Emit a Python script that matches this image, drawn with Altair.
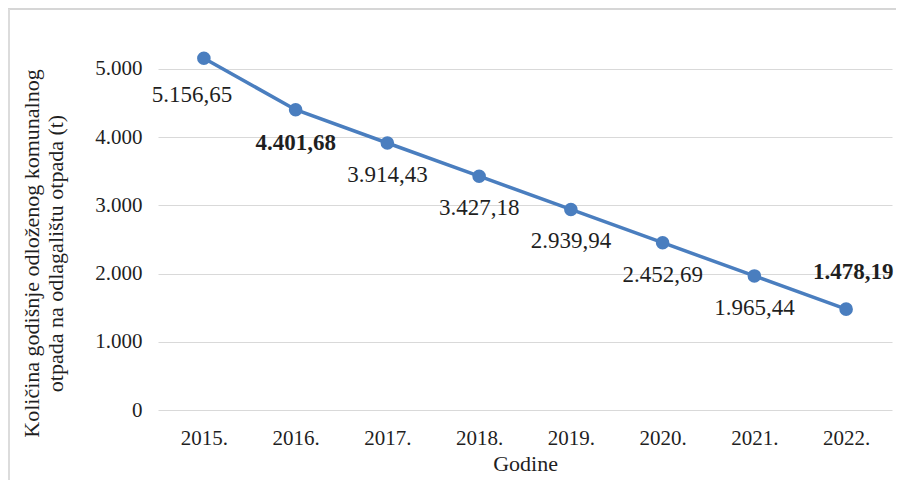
import altair as alt
import pandas as pd

years = ["2015.", "2016.", "2017.", "2018.", "2019.", "2020.", "2021.", "2022."]
values = [5156.65, 4401.68, 3914.43, 3427.18, 2939.94, 2452.69, 1965.44, 1478.19]
labels = ["5.156,65", "4.401,68", "3.914,43", "3.427,18", "2.939,94", "2.452,69", "1.965,44", "1.478,19"]
y_ticks = [0, 1000, 2000, 3000, 4000, 5000]

df = pd.DataFrame({"year": years, "value": values, "label": labels})

FONT = "Liberation Serif"
BLUE = "#4a7ebf"
TXT = "#1f1f1f"

x_enc = alt.X("year:N", sort=years, title="Godine",
              scale=alt.Scale(paddingInner=0, paddingOuter=0.5),
              axis=alt.Axis(labelAngle=0, ticks=False, domain=False, labelPadding=17,
                            labelFont=FONT, labelFontSize=21, labelColor=TXT,
                            titleFont=FONT, titleFontSize=22, titleFontWeight="normal",
                            titleColor=TXT, titlePadding=5))
y_enc = alt.Y("value:Q",
              scale=alt.Scale(domain=[0, 5600], nice=False),
              title=["Količina godišnje odloženog komunalnog", "otpada na odlagalištu otpada (t)"],
              axis=alt.Axis(values=y_ticks, ticks=False, domain=False, labelPadding=16,
                            labelExpr="replace(format(datum.value, ',d'), ',', '.')",
                            labelFont=FONT, labelFontSize=21, labelColor=TXT,
                            gridColor="#d9d9d9", gridWidth=1,
                            titleFont=FONT, titleFontSize=22, titleFontWeight="normal",
                            titleColor=TXT, titleX=-115, titleY=225, titleAlign="center"))

base = alt.Chart(df)

line = base.mark_line(color=BLUE, strokeWidth=3.5).encode(x=x_enc, y=y_enc)
pts = base.mark_circle(color=BLUE, size=185, opacity=1).encode(x=x_enc, y=y_enc)

def lbl(filter_expr, dx, dy, weight):
    return base.transform_filter(filter_expr).mark_text(
        font=FONT, fontSize=23, color=TXT, dx=dx, dy=dy, fontWeight=weight,
        baseline="middle", align="center"
    ).encode(x=alt.X("year:N", sort=years), y="value:Q", text="label:N")

l_first = lbl("datum.year == '2015.'", -12, 37, "normal")
l_bold_below = lbl("datum.year == '2016.'", 0, 33, "bold")
l_mid = lbl("indexof(['2017.','2018.','2019.','2020.','2021.'], datum.year) >= 0", 0, 32, "normal")
l_last = lbl("datum.year == '2022.'", 7, -37, "bold")

frame_top = alt.Chart().mark_rule(color="#d6d6d6", strokeWidth=2).encode(
    x=alt.value(-150), x2=alt.value(760), y=alt.value(-19))
frame_left = alt.Chart().mark_rule(color="#dcdcdc", strokeWidth=2).encode(
    x=alt.value(-149), y=alt.value(-19), y2=alt.value(480))

chart = alt.layer(line, pts, l_first, l_bold_below, l_mid, l_last, frame_top, frame_left, data=df).properties(
    width=734, height=382,
    autosize=alt.AutoSizeParams(type="none"),
    padding={"left": 150, "top": 20, "right": 4, "bottom": 70},
    background="white",
).configure_view(stroke=None)

chart.save("out.html", embed_options={"renderer": "svg", "actions": False})
